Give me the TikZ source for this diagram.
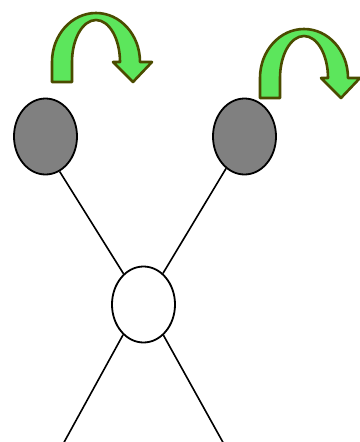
\documentclass[tikz,border=0pt]{standalone}
\usepackage{tikz}
\usetikzlibrary{shapes.geometric}
\definecolor{ballgray}{HTML}{808080}
\definecolor{turngreen}{HTML}{5CE65C}
\definecolor{turnedge}{HTML}{4B4B00}

\begin{document}
\begin{tikzpicture}[
  x=1pt, y=-1pt,
  ball/.style={ellipse, draw=black, line width=1.8pt, fill=white,
               minimum width=63pt, minimum height=76pt, inner sep=0pt},
  spinball/.style={ball, fill=ballgray},
  leg/.style={line width=1.6pt, draw=black},
  turn/.style={fill=turngreen, draw=turnedge, line width=2.6pt, line join=round},
]
\useasboundingbox (0,0) rectangle (359,442);
% spinning particles and the vertex
\node[spinball] (lball) at (45.5,136.5) {};
\node[spinball] (rball) at (244.5,136.5) {};
\node[ball]     (core)  at (143.5,304.5) {};
\coordinate (lfoot) at (62,446);
\coordinate (rfoot) at (225,446);

\draw[leg] (lball.-68)  -- (core.123);
\draw[leg] (rball.-120) -- (core.58);
\draw[leg] (core.-124)  -- (lfoot);
\draw[leg] (core.-57)   -- (rfoot);

% turn arrows over the particles
\foreach \dx/\dy in {0/0, 208/16}
  \draw[turn, shift={(\dx,\dy)}]
    (52,82) -- (52,62) arc[start angle=180, end angle=0, x radius=44pt, y radius=49pt]
    -- (152,62) -- (133,82) -- (113,62) -- (120,62)
    arc[start angle=0, end angle=180, x radius=24pt, y radius=42pt]
    -- (72,82) -- cycle;
\end{tikzpicture}
\end{document}
